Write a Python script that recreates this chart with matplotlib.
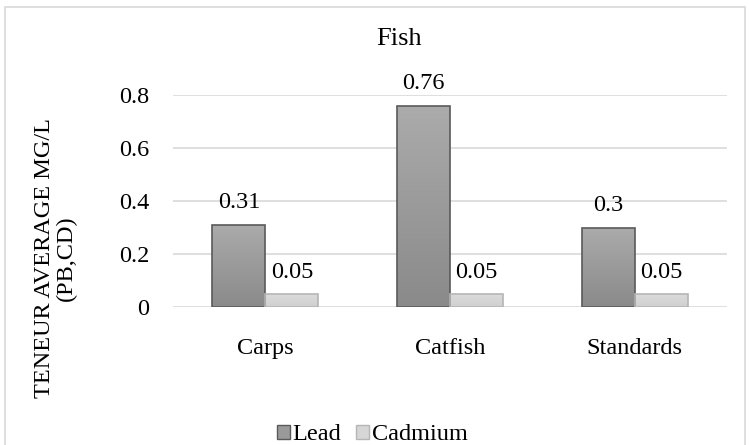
import numpy as np
import matplotlib
matplotlib.use("Agg")
import matplotlib.pyplot as plt
from matplotlib.patches import Rectangle, Patch

plt.rcParams['font.family'] = ['Liberation Serif', 'DejaVu Serif']

categories = ["Carps", "Catfish", "Standards"]
lead       = [0.31, 0.76, 0.30]
cadmium    = [0.05, 0.05, 0.05]
lead_lbls  = ["0.31", "0.76", "0.3"]
cad_lbls   = ["0.05", "0.05", "0.05"]
yticks     = [0, 0.2, 0.4, 0.6, 0.8]
ytick_lbls = ["0", "0.2", "0.4", "0.6", "0.8"]

fs = 17.5
fig = plt.figure(figsize=(7.49, 4.45), dpi=100)
ax = fig.add_axes([173/749, 1 - 307/445, 554/749, 212/445])

# outer chart border (bottom edge runs off the image like the original)
fig.patches.append(Rectangle((5/749, -5/445), 740/749, 443/445, transform=fig.transFigure,
                             fill=False, edgecolor="#d9d9d9", linewidth=1.2))

x = np.arange(len(categories))
w = 0.287

def grad_bars(xs, hs, c_top, c_bot, edge):
    bars = ax.bar(xs, hs, w, facecolor="none", edgecolor=edge, linewidth=1.2, zorder=3)
    cmap = matplotlib.colors.LinearSegmentedColormap.from_list("g", [c_bot, c_top])
    for b in bars:
        bx, by = b.get_x(), b.get_y()
        bw, bh = b.get_width(), b.get_height()
        im = ax.imshow(np.linspace(0, 1, 100).reshape(-1, 1), cmap=cmap, origin="lower",
                       extent=[bx, bx + bw, by, by + bh], aspect="auto", zorder=2)
        im.set_clip_path(b)
    return bars

lb = grad_bars(x - w/2, lead, "#ababab", "#8a8a8a", "#5a5a5a")
cb = grad_bars(x + w/2, cadmium, "#dcdcdc", "#cfcfcf", "#b5b5b5")

for xi, v, s in zip(x - w/2, lead, lead_lbls):
    ax.text(xi, v + 0.045, s, ha="center", va="bottom", fontsize=fs)
for xi, v, s in zip(x + w/2, cadmium, cad_lbls):
    ax.text(xi, v + 0.04, s, ha="center", va="bottom", fontsize=fs)

ax.set_xlim(-0.5, len(categories) - 0.5)
ax.set_ylim(0, 0.8)
ax.set_yticks(yticks)
ax.set_yticklabels(ytick_lbls, fontsize=fs)
ax.set_xticks(x)
ax.set_xticklabels(categories, fontsize=fs)
ax.tick_params(axis="both", length=0)
ax.tick_params(axis="y", pad=17)
ax.tick_params(axis="x", pad=22)
ax.grid(axis="y", color="#d9d9d9", linewidth=1.2, zorder=0)
ax.set_axisbelow(True)
for s in ax.spines.values():
    s.set_visible(False)

ax.set_title("Fish", fontsize=19, pad=36, x=(399 - 173) / 554)
fig.text(55/749, 1 - 258/445, "TENEUR AVERAGE MG/L\n(PB,CD)", rotation=90,
         ha="center", va="center", fontsize=fs, multialignment="center", linespacing=1.05)

# legend
handles = [Patch(facecolor="#9a9a9a", edgecolor="#5a5a5a", label="Lead"),
           Patch(facecolor="#d6d6d6", edgecolor="#b5b5b5", label="Cadmium")]
fig.legend(handles=handles, loc="center", bbox_to_anchor=(372/749, 1 - 435/445), ncol=2,
           frameon=False, fontsize=fs, handlelength=0.55, handleheight=0.55,
           handletextpad=0.1, columnspacing=0.6, borderpad=0.1)

fig.savefig("out.png", dpi=100)
